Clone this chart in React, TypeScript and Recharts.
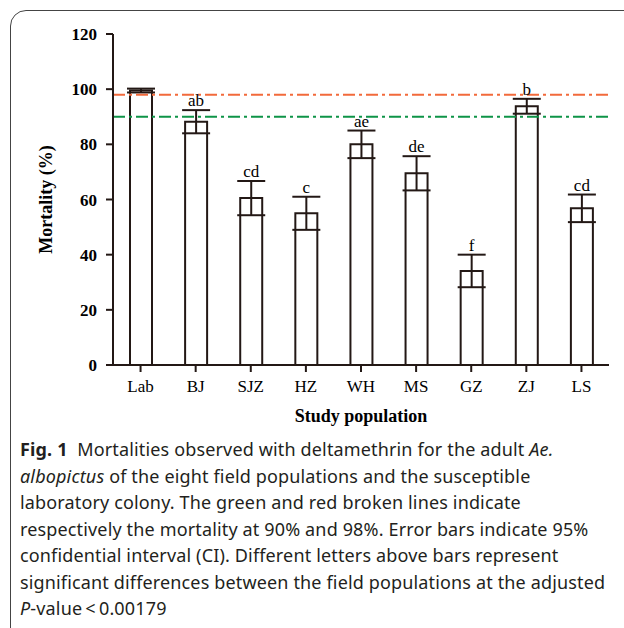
import React from 'react';
import {
  BarChart,
  Bar,
  XAxis,
  YAxis,
  ErrorBar,
  LabelList,
  ReferenceLine,
} from 'recharts';

// ---------------------------------------------------------------------------
// Data
// ---------------------------------------------------------------------------
const populations = ['Lab', 'BJ', 'SJZ', 'HZ', 'WH', 'MS', 'GZ', 'ZJ', 'LS'];
const mortality = [99.5, 88.2, 60.5, 55, 80, 69.5, 34.1, 93.8, 56.8];
const ciHalfWidth = [0.7, 4.2, 6.2, 6, 5, 6.2, 5.9, 2.7, 5];
const groupLetters = ['', 'ab', 'cd', 'c', 'ae', 'de', 'f', 'b', 'cd'];
const yTicks = [0, 20, 40, 60, 80, 100, 120];
const threshold98 = 98;
const threshold90 = 90;

const captionLines = [
  'albopictus',
  ' of the eight field populations and the susceptible',
  'laboratory colony. The green and red broken lines indicate',
  'respectively the mortality at 90% and 98%. Error bars indicate 95%',
  'confidential interval (CI). Different letters above bars represent',
  'significant differences between the field populations at the adjusted',
];

const INK = '#231815';
const SERIF = '"Liberation Serif", "Times New Roman", serif';

const data = populations.map((name, i) => ({
  name,
  value: mortality[i],
  ci: ciHalfWidth[i],
  letter: groupLetters[i],
}));

// letter sits just above the top of the error bar
function LetterLabel(props: any): React.JSX.Element | null {
  const { x, y, width, height, index } = props;
  const v = mortality[index];
  const e = ciHalfWidth[index];
  if (!groupLetters[index]) return null;
  const top = Number(y) - (e / v) * Number(height);
  return (
    <text
      x={Number(x) + Number(width) / 2}
      y={top - 4}
      textAnchor="middle"
      fontFamily={SERIF}
      fontSize={17}
      fill="#000"
    >
      {groupLetters[index]}
    </text>
  );
}

function YTitle(props: any): React.JSX.Element {
  const vb = props.viewBox || {};
  const cy = vb.y + vb.height / 2;
  return (
    <text
      x={46}
      y={cy}
      transform={`rotate(-90, 46, ${cy})`}
      textAnchor="middle"
      dominantBaseline="central"
      fontFamily={SERIF}
      fontWeight="bold"
      fontSize={18}
      fill="#000"
    >
      Mortality (%)
    </text>
  );
}

function XTitle(props: any): React.JSX.Element {
  const vb = props.viewBox || {};
  return (
    <text
      x={vb.x + vb.width / 2}
      y={422}
      textAnchor="middle"
      fontFamily={SERIF}
      fontWeight="bold"
      fontSize={18}
      fill="#000"
    >
      Study population
    </text>
  );
}

export default function App(): React.JSX.Element {
  return (
    <div style={{ position: 'fixed', left: 0, top: 0, width: 624, height: 628, overflow: 'hidden', background: '#fff' }}>
      {/* rounded figure frame */}
      <div
        style={{
          position: 'absolute',
          left: 10,
          top: 10,
          width: 660,
          height: 660,
          border: '1.5px solid #444',
          borderRadius: 16,
        }}
      />
      <div style={{ position: 'absolute', left: 0, top: 0 }}>
        <BarChart
          width={624}
          height={430}
          data={data}
          margin={{ top: 34, right: 15, left: 53, bottom: 35 }}
          barCategoryGap={0}
        >
          <YAxis
            width={60}
            domain={[0, 120]}
            ticks={yTicks}
            interval={0}
            axisLine={{ stroke: INK, strokeWidth: 2 }}
            tickLine={{ stroke: INK, strokeWidth: 2 }}
            tickSize={7}
            tickMargin={9}
            tick={{ fontFamily: SERIF, fontWeight: 'bold', fontSize: 17, fill: '#000' }}
            label={<YTitle />}
          />
          <XAxis
            dataKey="name"
            height={30}
            interval={0}
            axisLine={{ stroke: INK, strokeWidth: 2 }}
            tickLine={{ stroke: INK, strokeWidth: 2 }}
            tickSize={7}
            tickMargin={8}
            tick={{ fontFamily: SERIF, fontSize: 17, fill: '#000' }}
            label={<XTitle />}
          />
          <Bar
            dataKey="value"
            fill="#fff"
            stroke={INK}
            strokeWidth={2}
            barSize={22}
            isAnimationActive={false}
          >
            <ErrorBar
              dataKey="ci"
              direction="y"
              width={14}
              stroke={INK}
              strokeWidth={2}
              isAnimationActive={false}
            />
            <LabelList dataKey="letter" content={<LetterLabel />} />
          </Bar>
          <ReferenceLine y={threshold98} stroke="#F26A3B" strokeWidth={2} strokeDasharray="12 4 3 4" />
          <ReferenceLine y={threshold90} stroke="#0E9447" strokeWidth={2} strokeDasharray="12 4 3 4" />
        </BarChart>
      </div>
      {/* caption */}
      <div
        style={{
          position: 'absolute',
          left: 20,
          top: 436,
          width: 600,
          fontFamily: '"Noto Sans", sans-serif',
          fontSize: 18,
          letterSpacing: 0.15,
          lineHeight: '26.5px',
          color: '#231f20',
          whiteSpace: 'nowrap',
        }}
      >
        <div>
          <b>Fig. 1</b>&nbsp;&nbsp;Mortalities observed with deltamethrin for the adult <i>Ae.</i>
        </div>
        <div>
          <i>{captionLines[0]}</i>
          {captionLines[1]}
        </div>
        <div>{captionLines[2]}</div>
        <div>{captionLines[3]}</div>
        <div>{captionLines[4]}</div>
        <div>{captionLines[5]}</div>
        <div>
          <i>P</i>-value&thinsp;&lt;&thinsp;0.00179
        </div>
      </div>
    </div>
  );
}
